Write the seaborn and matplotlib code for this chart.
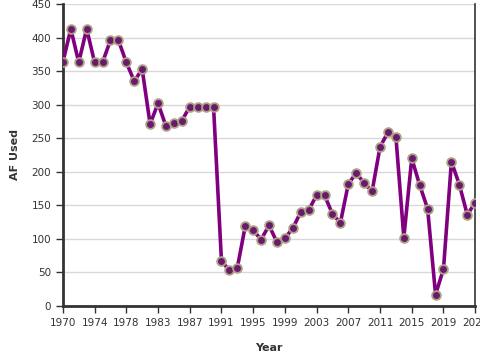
import pandas as pd
import seaborn as sns
import matplotlib.pyplot as plt

# water use by year (one year between 1979 and 1982 is missing in the source)
years = [1970, 1971, 1972, 1973, 1974, 1975, 1976, 1977, 1978, 1979, 1980,
         1982, 1983, 1984, 1985, 1986, 1987, 1988, 1989, 1990, 1991, 1992,
         1993, 1994, 1995, 1996, 1997, 1998, 1999, 2000, 2001, 2002, 2003,
         2004, 2005, 2006, 2007, 2008, 2009, 2010, 2011, 2012, 2013, 2014,
         2015, 2016, 2017, 2018, 2019, 2020, 2021, 2022, 2023]
af_used = [363, 413, 363, 413, 363, 363, 396, 396, 363, 335, 353,
           271, 302, 268, 272, 276, 297, 297, 297, 297, 67, 53,
           57, 119, 113, 99, 120, 95, 101, 116, 140, 143, 165,
           165, 137, 124, 182, 198, 183, 171, 237, 259, 252, 102,
           220, 180, 145, 17, 55, 215, 181, 136, 154]

df = pd.DataFrame({'idx': range(len(years)), 'Year': years, 'AF Used': af_used})

sns.set_style('white')
plt.rcParams['font.family'] = ['DejaVu Sans']

fig = plt.figure(figsize=(4.8, 3.6), dpi=100)
ax = fig.add_axes([0.131, 0.15, 0.859, 0.839])

ax.yaxis.grid(True, color='#d8d8d8', linewidth=1)
ax.set_axisbelow(True)

sns.lineplot(data=df, x='idx', y='AF Used', ax=ax, color='#800080', linewidth=2.6,
             marker='o', markersize=6.3, markerfacecolor='#6a1a6e',
             markeredgecolor='#ada284', markeredgewidth=1.3, zorder=3)

ax.set_xlim(0, len(years) - 1)
ax.set_ylim(0, 450)
ax.set_yticks(range(0, 451, 50))
tick_pos = list(range(0, len(years), 4))
ax.set_xticks(tick_pos)
ax.set_xticklabels([str(years[i]) for i in tick_pos])
ax.tick_params(axis='both', direction='out', length=5, width=1, color='#333333',
               labelsize=7.5, labelcolor='#333333', bottom=True, left=True)

for side in ['left', 'bottom']:
    ax.spines[side].set_color('#333333')
    ax.spines[side].set_linewidth(2)
ax.spines['right'].set_color('#333333')
ax.spines['right'].set_linewidth(1.2)
ax.spines['top'].set_visible(False)

ax.set_xlabel('Year', fontsize=8, fontweight='bold', color='#333333', labelpad=11)
ax.set_ylabel('AF Used', fontsize=8, fontweight='bold', color='#333333', labelpad=8)

fig.savefig('out.png', dpi=100)
